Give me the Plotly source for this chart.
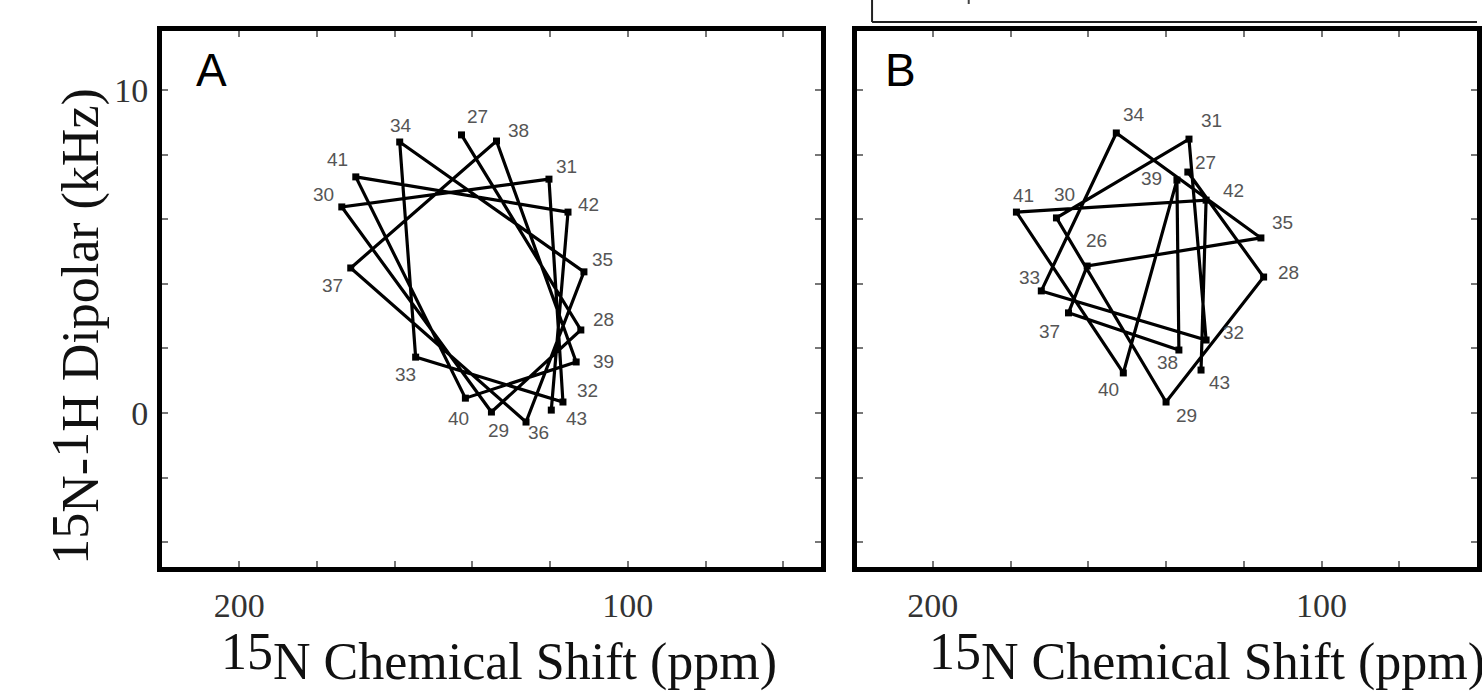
import plotly.graph_objects as go

W, H = 1482, 691

# ---------------- data ----------------
# Panel A: residues in sequence order (ppm, kHz)
A_LABELS = ["27", "28", "29", "30", "31", "32", "33", "34", "35",
            "36", "37", "38", "39", "40", "41", "42", "43"]
A_SHIFT = [142.8, 112.1, 135.1, 173.6, 120.3, 116.7, 154.6, 158.7, 111.3,
           126.2, 171.3, 133.8, 113.3, 141.8, 170.0, 115.4, 119.7]
A_DIPOLAR = [8.61, 2.57, 0.03, 6.38, 7.24, 0.34, 1.73, 8.39, 4.37,
             -0.28, 4.49, 8.42, 1.58, 0.46, 7.31, 6.22, 0.09]

# Panel B: residues in sequence order (ppm, kHz)
B_LABELS = ["27", "28", "29", "30", "31", "32", "33", "34", "35",
            "26", "37", "38", "39", "40", "41", "42", "43"]
B_SHIFT = [134.4, 114.9, 140.0, 168.2, 134.1, 129.7, 172.1, 152.8, 115.6,
           160.3, 165.1, 136.7, 137.2, 151.0, 178.5, 129.7, 131.0]
B_DIPOLAR = [7.46, 4.21, 0.34, 6.04, 8.48, 2.26, 3.78, 8.67, 5.42,
             4.55, 3.10, 1.95, 7.21, 1.24, 6.22, 6.59, 1.33]

X_TICKS = [200, 180, 160, 140, 120, 100, 80, 60]
X_TICK_TEXT = ["200", "", "", "", "", "100", "", ""]
Y_TICKS = [-4, -2, 0, 2, 4, 6, 8, 10]
Y_TICK_TEXT = ["", "", "0", "", "", "", "", "10"]

# label offsets in pixels (dx right, dy down) – layout only
A_OFF = {"27": (16, -18), "28": (23, -10), "29": (7, 18), "30": (-18, -12),
         "31": (18, -13), "32": (25, -12), "33": (-10, 17), "34": (1, -17),
         "35": (19, -12), "36": (12, 10), "37": (-18, 18), "38": (22, -11),
         "39": (27, 0), "40": (-7, 20), "41": (-18, -17), "42": (20, -8),
         "43": (25, 8)}
B_OFF = {"27": (18, -10), "28": (25, -5), "29": (20, 13), "30": (8, -23),
         "31": (23, -19), "32": (27, -8), "33": (-12, -13), "34": (18, -18),
         "35": (22, -15), "26": (9, -26), "37": (-19, 19), "38": (-11, 12),
         "39": (-25, -2), "40": (-15, 17), "41": (7, -17), "42": (27, -10),
         "43": (18, 12)}

SERIF = "Liberation Serif"
SANS = "Liberation Sans"

fig = go.Figure()

for lab, xs, ys, xa, ya in [(A_LABELS, A_SHIFT, A_DIPOLAR, "x", "y"),
                            (B_LABELS, B_SHIFT, B_DIPOLAR, "x2", "y2")]:
    fig.add_trace(go.Scatter(
        x=xs, y=ys, xaxis=xa, yaxis=ya, mode="lines+markers",
        line=dict(color="black", width=3.2),
        marker=dict(symbol="square", size=7, color="black"),
        hoverinfo="skip", showlegend=False, cliponaxis=False))

annotations = []
for lab, xs, ys, xr, yr, off in [(A_LABELS, A_SHIFT, A_DIPOLAR, "x", "y", A_OFF),
                                 (B_LABELS, B_SHIFT, B_DIPOLAR, "x2", "y2", B_OFF)]:
    for l, xv, yv in zip(lab, xs, ys):
        dx, dy = off[l]
        annotations.append(dict(
            x=xv, y=yv, xref=xr, yref=yr, text=l, showarrow=False,
            xanchor="center", yanchor="middle",
            xshift=dx, yshift=-dy, font=dict(family=SANS, size=19, color="#555")))


def px(xp):
    return xp / W


def py(yp):
    return 1 - yp / H


# panel letters
for letter, xp in [("A", 212), ("B", 904)]:
    annotations.append(dict(x=px(xp), y=py(70), xref="paper", yref="paper", text=letter,
                            xanchor="center", yanchor="middle", showarrow=False,
                            font=dict(family=SANS, size=46, color="black")))

BIG = "font-size:52px"
XTITLE = (f"<sup><span style='{BIG}'>15</span></sup>"
          f"<span style='{BIG}'>N Chemical Shift (ppm)</span>")
YTITLE = (f"<sup><span style='{BIG}'>15</span></sup><span style='{BIG}'>N-</span>"
          f"<sup><span style='{BIG}'>1</span></sup>"
          f"<span style='{BIG}'>H Dipolar (kHz)</span>")
for xp in (220, 930):
    annotations.append(dict(x=px(xp), y=py(657), xref="paper", yref="paper", text=XTITLE,
                            xanchor="left", yanchor="middle", showarrow=False,
                            font=dict(family=SERIF, size=24, color="#111")))
annotations.append(dict(x=px(76), y=py(326), xref="paper", yref="paper", text=YTITLE,
                        textangle=-90, xanchor="center", yanchor="middle", showarrow=False,
                        font=dict(family=SERIF, size=24, color="#111")))

common_x = dict(tickvals=X_TICKS, ticktext=X_TICK_TEXT, ticks="inside", ticklen=6,
                tickwidth=2, tickcolor="#777", showline=True, linewidth=5,
                linecolor="black", mirror="ticks", showgrid=False, zeroline=False,
                tickfont=dict(family=SERIF, size=34, color="#333"),
                ticklabelstandoff=5, fixedrange=True)
common_y = dict(tickvals=Y_TICKS, ticktext=Y_TICK_TEXT, ticks="inside", ticklen=6,
                tickwidth=2, tickcolor="#777", showline=True, linewidth=5,
                linecolor="black", mirror="ticks", showgrid=False, zeroline=False,
                tickfont=dict(family=SERIF, size=34, color="#333"),
                ticklabelstandoff=2, range=[-4.752, 11.842], fixedrange=True)

fig.update_layout(
    width=W, height=H, margin=dict(l=0, r=0, t=0, b=0),
    paper_bgcolor="white", plot_bgcolor="white", showlegend=False,
    xaxis=dict(domain=[px(162.5), px(823.5)], range=[219.87, 50.38], anchor="y", **common_x),
    yaxis=dict(domain=[py(566.5), py(30.5)], anchor="x", **common_y),
    xaxis2=dict(domain=[px(859.5), 1.0], range=[219.62, 60.0], anchor="y2", **common_x),
    yaxis2=dict(domain=[py(566.5), py(30.5)], anchor="x2", showticklabels=False, **common_y),
    annotations=annotations,
    shapes=[
        dict(type="line", xref="paper", yref="paper", x0=px(875), x1=px(875),
             y0=1.0, y1=py(22), line=dict(color="#222", width=2)),
        dict(type="line", xref="paper", yref="paper", x0=px(875), x1=1.0,
             y0=py(22), y1=py(22), line=dict(color="#222", width=2)),
        dict(type="line", xref="paper", yref="paper", x0=px(972), x1=px(972),
             y0=1.0, y1=py(4), line=dict(color="#444", width=2)),
    ],
)

fig.write_html("out.html")
